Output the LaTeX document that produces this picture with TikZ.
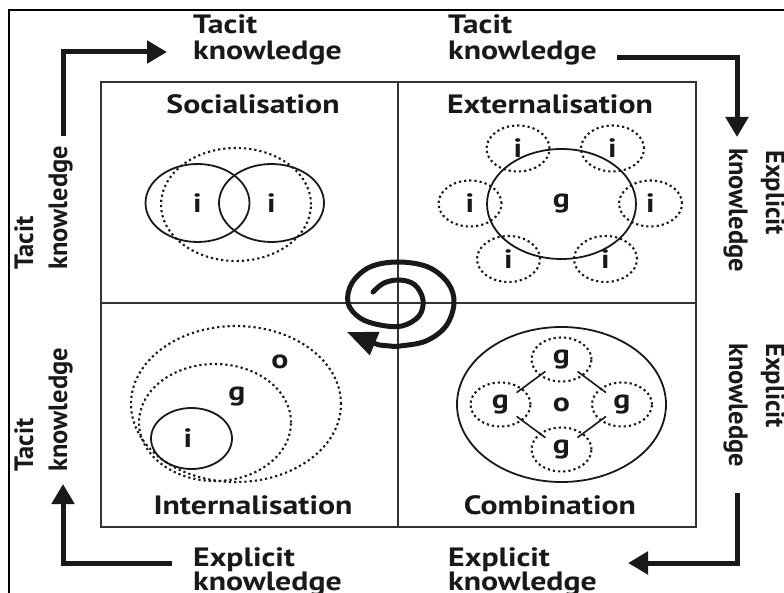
\documentclass[tikz,border=0pt]{standalone}
\usepackage{fontspec}
\setmainfont{PT Sans}
\usetikzlibrary{shapes.geometric,arrows.meta}
% horizontal words are set a little wider than the rotated ones
\newcommand\hwide[1]{\scalebox{1.2}[1]{#1}}

\begin{document}
\begin{tikzpicture}[x=1pt,y=-1pt,
  txt/.style={font=\fontsize{26.5}{30}\selectfont\bfseries, inner sep=0pt, text=black!90},
  gridline/.style={line width=1.6pt, draw=black!80},
  ring/.style={ellipse, draw=black!90, line width=1.8pt, inner sep=0pt, txt},
  dotring/.style={ellipse, draw=black!90, line width=2.1pt, dash pattern=on 2.2pt off 3pt, inner sep=0pt, txt},
  bigarrow/.style={line width=5pt, draw=black!90, -{Triangle[length=20pt,width=22pt]}},
  link/.style={line width=1.6pt, draw=black!90, shorten <=20pt, shorten >=20pt},
  spiralline/.style={line width=5pt, draw=black!90, line cap=round, -{Triangle[length=30pt,width=24pt]}}
]
\useasboundingbox (0,0) rectangle (784,593);
\fill[white] (0,0) rectangle (784,593);

% outer frame
\draw[line width=1.2pt] (9,593) -- (9,10) -- (784,10);

% the 2x2 matrix
\draw[gridline] (101,82) rectangle (696,527);
\draw[gridline] (398,82) -- (398,527);
\draw[gridline] (101,303) -- (696,303);

% quadrant titles
\node[txt] (socT) at (253,104) {\hwide{Socialisation}};
\node[txt] (extT) at (550,104) {\hwide{Externalisation}};
\node[txt] (intT) at (253,505) {\hwide{Internalisation}};
\node[txt] (comT) at (550,505) {\hwide{Combination}};

% socialisation: two individuals sharing
\node[dotring, minimum width=150pt, minimum height=113pt] (socG) at (236,204.5) {};
\node[ring, minimum width=104pt, minimum height=78pt] (socI1) at (197.5,203) {\hwide{i}};
\node[ring, minimum width=105pt, minimum height=78pt] (socI2) at (271.5,203) {\hwide{i}};

% externalisation: individuals around a group
\node[ring, minimum width=149pt, minimum height=110pt] (extG) at (561.5,204) {\hwide{g}};
\foreach \n/\cx/\cy in {a/518/148.5, b/612.5/148.5, c/470/203.5, d/650.5/203.5, e/508.5/259, f/605.5/259}
  \node[dotring, minimum width=63pt, minimum height=46pt] (extI\n) at (\cx,\cy) {\hwide{i}};

% internalisation: nested individual, group, organisation
\node[dotring, minimum width=210pt, minimum height=156pt] (intO) at (236,404) {};
\node[dotring, minimum width=152pt, minimum height=117pt] (intG) at (215,422.5) {};
\node[ring, minimum width=81pt, minimum height=61pt] (intI) at (191.5,438.5) {};
\node[txt] (intOl) at (280,362) {\hwide{o}};
\node[txt] (intGl) at (237,397) {\hwide{g}};
\node[txt] (intIl) at (188,438) {\hwide{i}};

% combination: groups linked inside the organisation
\node[ring, minimum width=209pt, minimum height=155pt] (comO) at (561.5,404.5) {\hwide{o}};
\node[dotring, minimum width=60pt, minimum height=44pt] (gT) at (561.5,359.5) {\hwide{g}};
\node[dotring, minimum width=60pt, minimum height=44pt] (gL) at (500.5,404.5) {\hwide{g}};
\node[dotring, minimum width=60pt, minimum height=44pt] (gR) at (622,404.5) {\hwide{g}};
\node[dotring, minimum width=60pt, minimum height=44pt] (gB) at (561.5,449.5) {\hwide{g}};
\draw[link] (gL.center) -- (gT.center);
\draw[link] (gT.center) -- (gR.center);
\draw[link] (gL.center) -- (gB.center);
\draw[link] (gB.center) -- (gR.center);

% knowledge spiral in the middle
\draw[spiralline] plot[smooth, tension=0.6] coordinates {
  (373,292) (384,283) (400,280) (415,285) (423,300) (419,316) (402,326)
  (380,325) (360,318) (348,303) (352,283) (370,267) (398,262) (428,267)
  (448,283) (454,303) (446,326) (426,341) (400,346) (390,346)}
  .. controls (378,345) .. (347,332);

% labels around the matrix
\node[txt, anchor=base west] (tTL) at (193,34) {\hwide{Tacit}};
\node[txt, anchor=base west] (kTL) at (193,60) {\hwide{knowledge}};
\node[txt, anchor=base west] (tTR) at (448,34) {\hwide{Tacit}};
\node[txt, anchor=base west] (kTR) at (448,60) {\hwide{knowledge}};
\node[txt, anchor=base west] (eBL) at (193,566) {\hwide{Explicit}};
\node[txt, anchor=base west] (kBL) at (193,590) {\hwide{knowledge}};
\node[txt, anchor=base west] (eBR) at (448,566) {\hwide{Explicit}};
\node[txt, anchor=base west] (kBR) at (448,590) {\hwide{knowledge}};

\node[txt, anchor=base west, rotate=90] (tL1) at (33,270) {Tacit};
\node[txt, anchor=base west, rotate=90] (kL1) at (67,270) {knowledge};
\node[txt, anchor=base west, rotate=90] (tL2) at (33,472) {Tacit};
\node[txt, anchor=base west, rotate=90] (kL2) at (67,472) {knowledge};

\node[txt, anchor=base west, rotate=-90] (eR1) at (766,150) {Explicit};
\node[txt, anchor=base west, rotate=-90] (kR1) at (729,148) {knowledge};
\node[txt, anchor=base west, rotate=-90] (eR2) at (766,343) {Explicit};
\node[txt, anchor=base west, rotate=-90] (kR2) at (729,343) {knowledge};

% conversion arrows
\coordinate (a1s) at (63,136);  \coordinate (a1e) at (167,52);
\coordinate (a2s) at (617,58);  \coordinate (a2e) at (737,137);
\coordinate (a3s) at (737,493); \coordinate (a3e) at (628,563);
\coordinate (a4s) at (172,563); \coordinate (a4e) at (63,484);
\draw[bigarrow] (a1s) |- (a1e);
\draw[bigarrow] (a2s) -| (a2e);
\draw[bigarrow] (a3s) |- (a3e);
\draw[bigarrow] (a4s) -| (a4e);
\end{tikzpicture}
\end{document}
